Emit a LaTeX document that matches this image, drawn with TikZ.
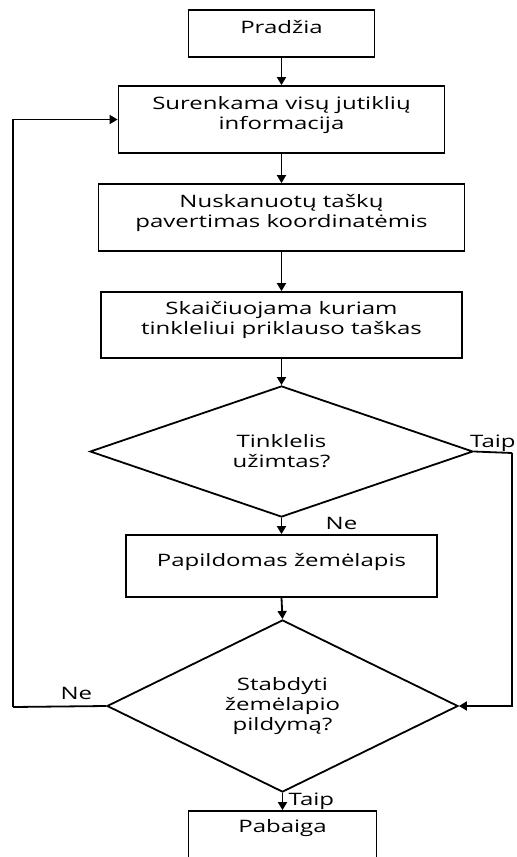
\documentclass[tikz,border=0pt]{standalone}
\usepackage{fontspec}
\setmainfont[FakeStretch=1.4]{Open Sans}
\usetikzlibrary{arrows.meta,shapes.geometric}

\begin{document}
\begin{tikzpicture}[x=1bp, y=-1bp,
    font=\fontsize{17.2}{20}\selectfont,
    box/.style={rectangle, draw, line width=1.8bp, align=center, inner sep=0pt},
    decision/.style={diamond, draw, line width=1.8bp, align=center, inner sep=0pt},
    arr/.style={-{Triangle[length=8bp, width=9bp]}, line width=1.8bp},
    line/.style={line width=1.8bp}]
\useasboundingbox (0,0) rectangle (517,857);
\clip (0,0) rectangle (517,857);
% process steps
\node[box, minimum width=186bp, minimum height=47bp, text depth=13bp] (start) at (281.5,33.5) {Pradžia};
\node[box, minimum width=326bp, minimum height=67bp, text depth=13bp] (collect) at (281.5,119.5) {Surenkama visų jutiklių\\informacija};
\node[box, minimum width=366bp, minimum height=67bp, text depth=13bp] (convert) at (281.5,217.5) {Nuskanuotų taškų\\pavertimas koordinatėmis};
\node[box, minimum width=361bp, minimum height=66bp, text depth=15bp] (cell) at (281.5,325) {Skaičiuojama kuriam\\tinkleliui priklauso taškas};
\node[decision, minimum width=383bp, minimum height=103bp] (occupied) at (281.5,451.5) {Tinklelis\\užimtas?};
\node[box, minimum width=311bp, minimum height=62bp, text depth=12bp] (update) at (281.5,566) {Papildomas žemėlapis};
\node[decision, minimum width=351bp, minimum height=148bp] (stop) at (282.5,706) {Stabdyti\\žemėlapio\\pildymą?};
\node[box, minimum width=188bp, minimum height=60bp, text depth=30bp] (end) at (282.5,841) {Pabaiga};
% loop corners
\coordinate (rtop) at (512,453);
\coordinate (ltop) at (13,707);
% connectors
\draw[arr] (start) -- (collect);
\draw[arr] (collect) -- (convert);
\draw[arr] (convert) -- (cell);
\draw[arr] (cell.south) -- (occupied.north);
\draw[arr] (occupied.south) -- node[right, xshift=40bp, yshift=3bp] {Ne} (update.north);
\draw[arr] (update.south) -- (stop.north);
\draw[arr] (stop.south) -- node[right, xshift=2bp] {Taip} (end.north);
\draw[line] (occupied.east) -- (rtop);
\draw[arr] (rtop) |- (stop.east);
\draw[line] (stop.west) -- node[pos=0.32, above, yshift=2bp] {Ne} (ltop);
\draw[arr] (ltop) |- (collect.west);
\node[anchor=south west, inner sep=0pt] (yes) at (470,452) {Taip};
\end{tikzpicture}
\end{document}
